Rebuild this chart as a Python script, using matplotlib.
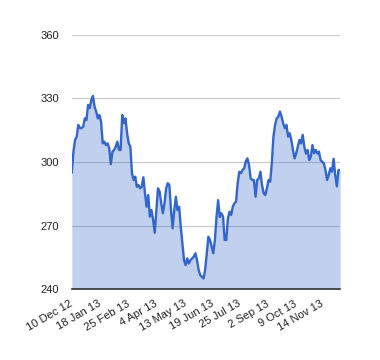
import pandas as pd
import matplotlib

matplotlib.use('Agg')
import matplotlib.pyplot as plt

plt.rcParams['font.family'] = ['Liberation Sans', 'DejaVu Sans']

# closing values, evenly spaced from 10 Dec 12 to early Dec 13
prices = [
    295.1, 304.9, 310.4, 312.0, 317.5, 316.0, 316.0, 316.7, 320.6, 319.8,
    327.0, 325.4, 329.3, 331.2, 326.0, 323.8, 320.6, 322.2, 319.0, 308.8,
    309.6, 308.0, 308.8, 306.5, 299.0,
    304.9, 305.7, 307.2, 309.6, 305.7, 305.7, 322.2, 318.3, 320.6, 313.6,
    308.8, 307.2, 294.7, 291.5, 293.1, 288.3, 289.1, 287.6, 288.3, 292.8,
    285.2, 278.9, 284.4, 274.2, 277.3, 272.6, 266.6,
    277.3, 287.6, 286.0, 280.5, 275.8, 280.5, 287.6, 290.0, 289.1, 277.3,
    268.7, 277.3, 283.6, 277.3, 278.9, 269.4, 261.6, 253.7, 251.3, 254.5,
    252.1, 253.7, 254.5, 255.3, 256.9, 253.7, 249.0, 246.6,
    245.8, 245.0, 249.0, 256.9, 264.7, 263.2, 260.0, 256.9, 263.2, 274.2,
    282.0, 274.0, 275.8, 274.2, 263.2, 263.2, 273.4, 276.5, 275.0, 278.9,
    280.5, 281.3, 290.0, 295.4, 294.7, 296.2, 297.0, 300.3, 301.7,
    298.6, 292.3, 291.5, 291.5, 283.6, 291.5, 292.3, 295.4, 289.1, 285.2,
    284.4, 287.6, 291.5, 290.7, 299.4, 312.0, 317.5, 320.6, 321.4, 323.8,
    321.4, 318.3, 315.9, 317.5, 312.0, 313.6, 310.4,
    305.7, 301.7, 304.1, 307.2, 310.4, 308.8, 312.8, 307.2, 304.0, 305.7,
    300.9, 302.5, 308.0, 304.1, 305.7, 304.0, 304.9, 300.9, 300.1, 299.4,
    296.2, 291.5, 293.9, 297.0, 295.4, 301.5, 293.9, 288.5, 296.2, 296.2,
]
dates = pd.date_range('2012-12-10', '2013-12-08', periods=len(prices))

tick_dates = ['2012-12-10', '2013-01-18', '2013-02-25', '2013-04-04', '2013-05-13',
              '2013-06-19', '2013-07-25', '2013-09-02', '2013-10-09', '2013-11-14']
tick_labels = ['10 Dec 12', '18 Jan 13', '25 Feb 13', '4 Apr 13', '13 May 13',
               '19 Jun 13', '25 Jul 13', '2 Sep 13', '9 Oct 13', '14 Nov 13']
y_ticks = [240, 270, 300, 330, 360]

fig = plt.figure(figsize=(3.8, 3.6), dpi=100)
ax = fig.add_axes([0.189, 0.197, 0.706, 0.706])

ax.fill_between(dates, prices, 240, color='#3366cc', alpha=0.3, linewidth=0)
ax.plot(dates, prices, color='#3366cc', linewidth=1.7)

ax.set_ylim(240, 360)
ax.set_xlim(dates[0], dates[-1])
ax.set_yticks(y_ticks)
ax.set_xticks(pd.to_datetime(tick_dates))
ax.set_xticklabels(tick_labels, rotation=30, ha='right', va='center',
                   rotation_mode='anchor')

ax.grid(axis='y', color='#cccccc', linewidth=0.9)
ax.set_axisbelow(True)
for side in ['left', 'right', 'top']:
    ax.spines[side].set_visible(False)
ax.spines['bottom'].set_color('#333333')
ax.spines['bottom'].set_linewidth(1.2)
ax.spines['bottom'].set_zorder(5)
ax.tick_params(axis='both', length=0, labelsize=8, labelcolor='#222222')
ax.tick_params(axis='y', pad=9)
ax.tick_params(axis='x', pad=10)

plt.savefig('out.png', dpi=100)
